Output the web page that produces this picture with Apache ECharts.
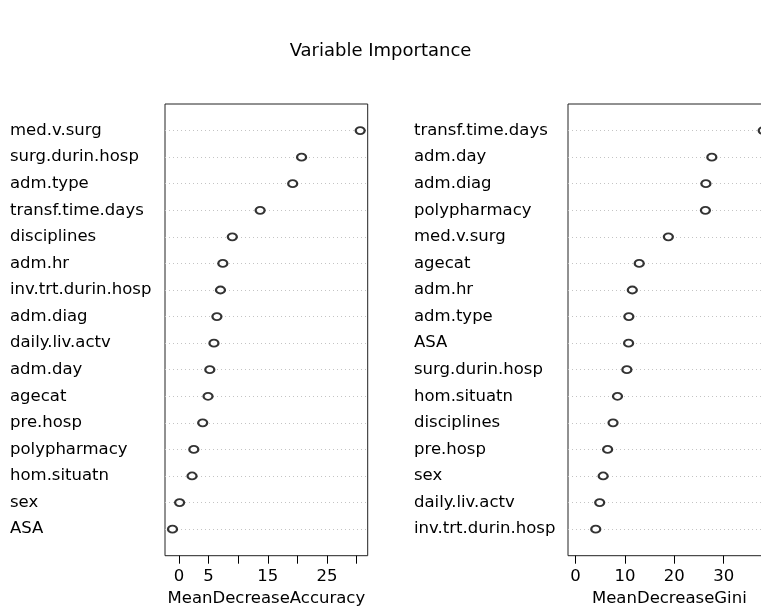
<!DOCTYPE html>
<html>
<head>
<meta charset="utf-8">
<script src="https://cdn.jsdelivr.net/npm/echarts@6/dist/echarts.min.js"></script>
<style>
html,body{margin:0;padding:0;background:#fff;}
#chart{width:761px;height:607px;}
</style>
</head>
<body>
<div id="chart"></div>
<script>
// ---- data (top row first) ----
var accNames = ['med.v.surg','surg.durin.hosp','adm.type','transf.time.days','disciplines','adm.hr','inv.trt.durin.hosp','adm.diag','daily.liv.actv','adm.day','agecat','pre.hosp','polypharmacy','hom.situatn','sex','ASA'];
var accValues = [30.6,20.7,19.2,13.7,9.0,7.4,7.0,6.4,5.9,5.2,4.9,4.0,2.5,2.2,0.1,-1.1];
var giniNames = ['transf.time.days','adm.day','adm.diag','polypharmacy','med.v.surg','agecat','adm.hr','adm.type','ASA','surg.durin.hosp','hom.situatn','disciplines','pre.hosp','sex','daily.liv.actv','inv.trt.durin.hosp'];
var giniValues = [38.0,27.6,26.4,26.3,18.8,12.9,11.5,10.8,10.75,10.4,8.5,7.6,6.5,5.6,4.9,4.1];
var accTicks = [0,5,10,15,20,25,30];
var accTickLabels = [0,5,15,25];
var giniTicks = [0,10,20,30];
var giniTickLabels = [0,10,20,30];
var mainTitle = 'Variable Importance';
var accTitle = 'MeanDecreaseAccuracy';
var giniTitle = 'MeanDecreaseGini';

var FONT = 'DejaVu Sans';
var n = accNames.length;
var rowVals = [];
for (var k = 1; k <= n; k++) rowVals.push(k);

function toPoints(vals){
  return vals.map(function(v,i){ return [v, n - i]; });
}
function rRange(lo, hi){
  var e = 0.04 * (hi - lo);
  return [lo - e, hi + e];
}
var accR = rRange(Math.min.apply(null, accValues), Math.max.apply(null, accValues));
var giniR = rRange(0, Math.max.apply(null, giniValues));

function xAxisFor(idx, range, ticks, labels, name){
  return {
    type:'value', gridIndex: idx, min: range[0], max: range[1],
    axisLine:{show:false},
    axisTick:{show:true, inside:false, length:8, customValues: ticks, lineStyle:{color:'#000', width:1}},
    axisLabel:{show:true, customValues: labels, margin:13, color:'#000', fontSize:16.5, fontFamily:FONT},
    splitLine:{show:false},
    name: name, nameLocation:'middle', nameGap:33,
    nameTextStyle:{color:'#000', fontSize:16.5, fontFamily:FONT}
  };
}
function yAxisFor(idx, names, margin){
  return {
    type:'value', gridIndex: idx, min:0, max:n+1, interval:1,
    axisLine:{show:false},
    axisTick:{show:false, customValues: rowVals},
    axisLabel:{show:true, customValues: rowVals, align:'left', margin: margin, color:'#000',
      fontSize:16.5, fontFamily:FONT,
      formatter:function(v){ var nm = names[n - v]; return nm === undefined ? '' : nm; }},
    splitLine:{show:true, lineStyle:{color:'#c4c4c4', width:1, type:[1,3]}}
  };
}

var chart = echarts.init(document.getElementById('chart'), null, {renderer:'canvas'});
chart.setOption({
  animation:false,
  backgroundColor:'#fff',
  title:{text: mainTitle, left:'center', top:37,
    textStyle:{color:'#000', fontSize:18, fontWeight:'normal', fontFamily:FONT}},
  grid:[
    {left:165, top:104, width:202.7, height:451.7, show:true, borderColor:'#222', borderWidth:1, backgroundColor:'transparent', containLabel:false, outerBoundsMode:'none'},
    {left:568, top:104, width:202.7, height:451.7, show:true, borderColor:'#222', borderWidth:1, backgroundColor:'transparent', containLabel:false, outerBoundsMode:'none'}
  ],
  xAxis:[
    xAxisFor(0, accR, accTicks, accTickLabels, accTitle),
    xAxisFor(1, giniR, giniTicks, giniTickLabels, giniTitle)
  ],
  yAxis:[
    yAxisFor(0, accNames, 155),
    yAxisFor(1, giniNames, 154)
  ],
  series:[
    {type:'scatter', xAxisIndex:0, yAxisIndex:0, data: toPoints(accValues), symbol:'emptyCircle', symbolSize:[9,7],
      itemStyle:{color:'#000', borderColor:'#000', borderWidth:1.1}, silent:true},
    {type:'scatter', xAxisIndex:1, yAxisIndex:1, data: toPoints(giniValues), symbol:'emptyCircle', symbolSize:[9,7],
      itemStyle:{color:'#000', borderColor:'#000', borderWidth:1.1}, silent:true}
  ]
});
</script>
</body>
</html>
